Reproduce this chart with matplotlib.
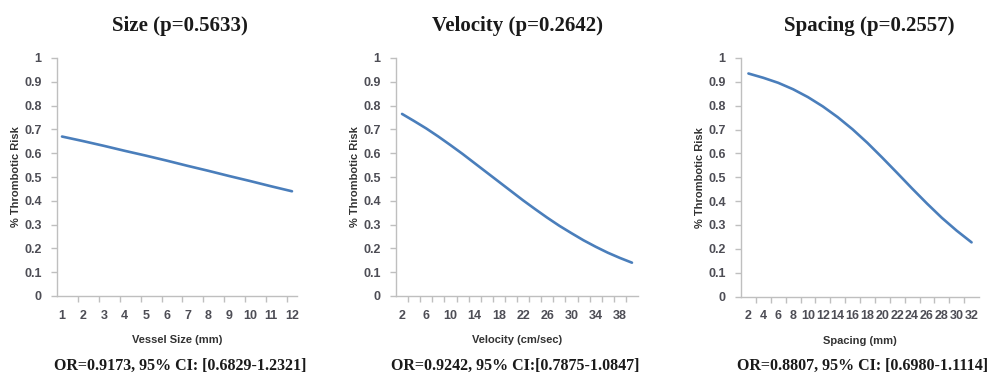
import matplotlib
matplotlib.use('Agg')
import matplotlib.pyplot as plt
import numpy as np

# values
size_x = [1, 2, 3, 4, 5, 6, 7, 8, 9, 10, 11, 12]
size_risk = [0.670, 0.651, 0.631, 0.610, 0.590, 0.569, 0.547, 0.526, 0.504, 0.483, 0.461, 0.440]

vel_x = [2, 4, 6, 8, 10, 12, 14, 16, 18, 20, 22, 24, 26, 28, 30, 32, 34, 36, 38, 40]
vel_risk = [0.765, 0.735, 0.704, 0.670, 0.634, 0.597, 0.558, 0.519, 0.480, 0.441,
            0.402, 0.365, 0.329, 0.295, 0.264, 0.234, 0.207, 0.182, 0.160, 0.140]

spc_x = [2, 4, 6, 8, 10, 12, 14, 16, 18, 20, 22, 24, 26, 28, 30, 32]
spc_risk = [0.935, 0.917, 0.896, 0.869, 0.836, 0.797, 0.752, 0.701,
            0.644, 0.582, 0.518, 0.453, 0.390, 0.330, 0.276, 0.227]

titles = ['Size (p=0.5633)', 'Velocity (p=0.2642)', 'Spacing (p=0.2557)']
xlabels = ['Vessel Size (mm)', 'Velocity (cm/sec)', 'Spacing (mm)']
notes = ['OR=0.9173, 95% CI: [0.6829-1.2321]',
         'OR=0.9242, 95% CI:[0.7875-1.0847]',
         'OR=0.8807, 95% CI: [0.6980-1.1114]']
size_labels = [1, 2, 3, 4, 5, 6, 7, 8, 9, 10, 11, 12]
vel_labels = [2, 6, 10, 14, 18, 22, 26, 30, 34, 38]
spc_labels = [2, 4, 6, 8, 10, 12, 14, 16, 18, 20, 22, 24, 26, 28, 30, 32]

W, H = 999, 377
fig = plt.figure(figsize=(W/100, H/100), dpi=100)

blue = '#4a7ebb'
txt = '#4d4d55'
grid = '#bfbfbf'

# pixel boxes: left, right, top(y=1), bottom(y=0)
boxes = [(57, 297, 58, 296), (396, 638, 58, 296), (741, 979, 58, 296.5)]
xlims = [(0.76, 12.24), (1.0, 41.0), (1.0, 33.0)]
minors = [np.arange(1.76, 12.2, 1), np.arange(3, 41, 2), np.arange(3, 33, 2)]
xs = [size_x, vel_x, spc_x]
ys = [size_risk, vel_risk, spc_risk]
labs = [size_labels, vel_labels, spc_labels]
title_cx = [180, 518, 869]
note_cx = [180, 515, 863]

for i in range(3):
    l, r, t, b = boxes[i]
    ax = fig.add_axes([l/W, (H-b)/H, (r-l)/W, (b-t)/H])
    ax.plot(xs[i], ys[i], color=blue, lw=1.9, solid_capstyle='round')
    ax.set_xlim(*xlims[i])
    ax.set_ylim(0, 1)
    for s in ['top', 'right']:
        ax.spines[s].set_visible(False)
    for s in ['left', 'bottom']:
        ax.spines[s].set_color(grid)
        ax.spines[s].set_linewidth(1.0)
    ax.set_yticks(np.arange(0, 1.01, 0.1))
    ax.set_yticklabels(['0', '0.1', '0.2', '0.3', '0.4', '0.5', '0.6', '0.7', '0.8', '0.9', '1'])
    ax.set_xticks(labs[i])
    ax.set_xticklabels([str(v) for v in labs[i]])
    ax.set_xticks(minors[i], minor=True)
    ax.tick_params(axis='y', length=4, width=1, color=grid, pad=7,
                   labelsize=9, labelcolor=txt)
    ax.tick_params(axis='x', which='major', length=0, pad=10,
                   labelsize=9, labelcolor=txt)
    ax.tick_params(axis='x', which='minor', length=4, width=1, color=grid)
    for lb in ax.get_xticklabels() + ax.get_yticklabels():
        lb.set_fontfamily('Liberation Sans')
        lb.set_fontweight('bold')
    ax.set_xlabel(xlabels[i], fontsize=8, fontweight='bold', color='#333333',
                  family='Liberation Sans')
    ax.xaxis.set_label_coords(0.5, -0.164)
    ax.set_ylabel('% Thrombotic Risk', fontsize=8, fontweight='bold', color='#333333',
                  family='Liberation Sans')
    ax.yaxis.set_label_coords(-0.15, 0.5)

    fig.text(title_cx[i]/W, 1 - 26/H, titles[i], ha='center', va='center',
             family='Liberation Serif', fontweight='bold', fontsize=15, color='#1a1a1a')
    fig.text(note_cx[i]/W, 1 - 366/H, notes[i], ha='center', va='center',
             family='Liberation Serif', fontweight='bold', fontsize=11.5, color='#1a1a1a')

fig.savefig('out.png', dpi=100)
